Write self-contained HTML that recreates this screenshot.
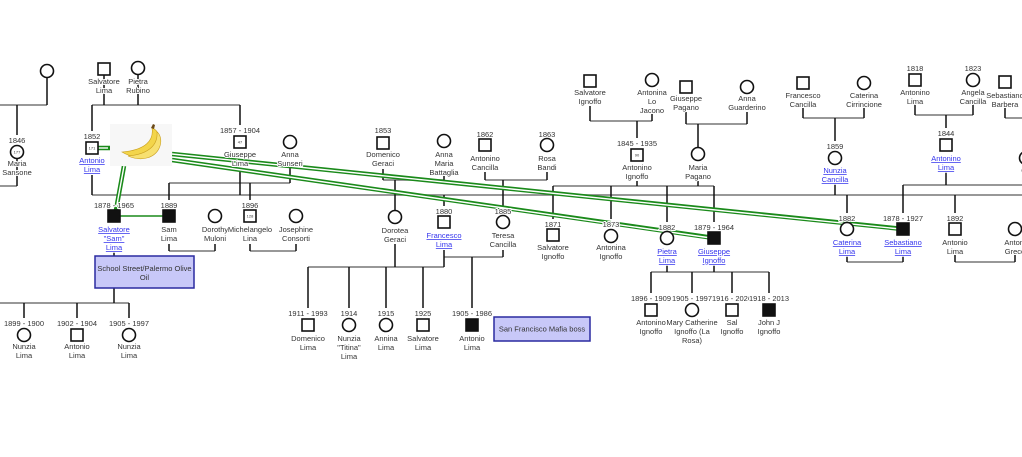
<!DOCTYPE html>
<html><head><meta charset="utf-8"><style>
html,body{margin:0;padding:0;background:#fff;width:1022px;height:457px;overflow:hidden}
svg{display:block}
text{font-family:"Liberation Sans",sans-serif;font-size:7.5px;fill:#333;text-anchor:middle;paint-order:stroke;stroke:#fff;stroke-width:2px;stroke-linejoin:round}
text.l{fill:#3333ee;text-decoration:underline}
text.n{font-size:4px;fill:#333;stroke:none}
.g{stroke:#777;stroke-width:1.5;fill:none}
.k{stroke:#111;stroke-width:1.5;fill:none}
.sq{fill:#fff;stroke:#111;stroke-width:1.6}
.ci{fill:#fff;stroke:#111;stroke-width:1.6}
.bk{fill:#111;stroke:#111;stroke-width:1.6}
</style></head><body>
<svg width="1022" height="457" viewBox="0 0 1022 457" xmlns="http://www.w3.org/2000/svg">
<g class="g">
<path d="M0 105H47M0 186H17"/>
<path d="M92 105H240"/>
<path d="M92 195H1022"/>
<path d="M169 183H290M169 251H215M250 251H296"/>
<path d="M0 303H129"/>
<path d="M383 180H444M485 180H547"/>
<path d="M308 267H444M444 257H503"/>
<path d="M590 121H652M686 124H747"/>
<path d="M553 186H714"/>
<path d="M651 272H769"/>
<path d="M803 118H864M915 115H973M1005 118H1022"/>
<path d="M903 185H1022"/>
<path d="M847 262H903M955 262H1015"/>
</g>
<g class="k">
<path d="M47 77V105M17 105V135M17 158V186"/>
<path d="M104 75V105M138 74V105M92 105V131M92 175V195M240 105V125M240 168V195M290 168V183"/>
<path d="M169 183V200M250 183V200M169 244V251M215 244V251M250 244V251M296 244V251"/>
<path d="M114 250V303M24 303V318M77 303V318M129 303V318"/>
<path d="M383 169V180M444 176V180M395 180V211M444 195V206M485 172V180M547 172V180M503 180V206"/>
<path d="M395 244V267M444 250V267M503 250V257M308 267V308M349 267V308M386 267V308M423 267V308M472 257V308"/>
<path d="M590 106V121M652 114V121M637 121V138M637 181V186M686 112V124M747 112V124M698 124V148M698 181V186"/>
<path d="M553 186V219M611 186V219M667 186V222M714 186V222M667 264V272M714 264V272"/>
<path d="M651 272V293M692 272V293M732 272V293M769 272V293"/>
<path d="M803 108V118M864 108V118M835 118V141M835 184V195M915 104V115M973 104V115M946 115V128M946 172V185M1005 108V118"/>
<path d="M847 195V213M903 185V213M955 195V213M847 255V262M903 255V262M955 255V262M1015 255V262"/>
</g>
<g fill="none" stroke="#1a8a1a" stroke-width="4.5">
<path d="M172 154L903 229"/><path d="M172 160L714 238"/><path d="M124 166L116 210"/><path d="M98 148H110"/>
</g>
<g fill="none" stroke="#fff" stroke-width="1.4">
<path d="M172 154L900 229"/><path d="M172 160L711 238"/><path d="M124 166L116.5 207"/><path d="M98 148H108"/>
</g>
<path d="M114 216H169" stroke="#1a8a1a" stroke-width="1.5"/>
<rect x="110" y="124" width="62" height="42" fill="#f7f7f7"/>
<path d="M122 152C135 160 150 158 158 146C162 138 158 130 152 128C154 140 146 150 122 152Z" fill="#f3d54a" stroke="#caa020" stroke-width=".6"/>
<path d="M128 156C142 162 156 158 160 146C162 140 160 134 157 132C158 144 150 154 128 156Z" fill="#f7e070" stroke="#caa020" stroke-width=".6"/>
<path d="M151 128l2-4 2 1-1 4z" fill="#6b4a1a"/>
<circle class="ci" cx="47" cy="71" r="6.5"/>
<text x="17" y="143">1846</text><circle class="ci" cx="17" cy="152" r="6.5"/><text class="n" x="17" y="153.5">177</text><text x="17" y="166">Maria</text><text x="17" y="175">Sansone</text>
<rect class="sq" x="98" y="63" width="12" height="12"/><text x="104" y="84">Salvatore</text><text x="104" y="93">Lima</text>
<circle class="ci" cx="138" cy="68" r="6.5"/><text x="138" y="84">Pietra</text><text x="138" y="93">Rubino</text>
<text x="92" y="139">1852</text><rect class="sq" x="86" y="142" width="12" height="12"/><text class="n" x="92" y="149.5">171</text><text class="l" x="92" y="163">Antonio</text><text class="l" x="92" y="172">Lima</text>
<text x="240" y="133">1857 - 1904</text><rect class="sq" x="234" y="136" width="12" height="12"/><text class="n" x="240" y="143.5">47</text><text x="240" y="157">Giuseppe</text><text x="240" y="166">Lima</text>
<circle class="ci" cx="290" cy="142" r="6.5"/><text x="290" y="157">Anna</text><text x="290" y="166">Sunseri</text>
<text x="114" y="208">1878 - 1965</text><rect class="bk" x="108" y="210" width="12" height="12"/><text class="l" x="114" y="232">Salvatore</text><text class="l" x="114" y="241">"Sam"</text><text class="l" x="114" y="250">Lima</text>
<text x="169" y="208">1889</text><rect class="bk" x="163" y="210" width="12" height="12"/><text x="169" y="232">Sam</text><text x="169" y="241">Lima</text>
<circle class="ci" cx="215" cy="216" r="6.5"/><text x="215" y="232">Dorothy</text><text x="215" y="241">Muloni</text>
<text x="250" y="208">1896</text><rect class="sq" x="244" y="210" width="12" height="12"/><text class="n" x="250" y="217.5">128</text><text x="250" y="232">Michelangelo</text><text x="250" y="241">Lina</text>
<circle class="ci" cx="296" cy="216" r="6.5"/><text x="296" y="232">Josephine</text><text x="296" y="241">Consorti</text>
<rect x="95" y="256" width="99" height="32" fill="#c8c8f8" stroke="#2a2aa0" stroke-width="1.5"/><text x="144.5" y="271" style="stroke:none">School Street/Palermo Olive</text><text x="144.5" y="280" style="stroke:none">Oil</text>
<text x="24" y="326">1899 - 1900</text><circle class="ci" cx="24" cy="335" r="6.5"/><text x="24" y="349">Nunzia</text><text x="24" y="358">Lima</text>
<text x="77" y="326">1902 - 1904</text><rect class="sq" x="71" y="329" width="12" height="12"/><text x="77" y="349">Antonio</text><text x="77" y="358">Lima</text>
<text x="129" y="326">1905 - 1997</text><circle class="ci" cx="129" cy="335" r="6.5"/><text x="129" y="349">Nunzia</text><text x="129" y="358">Lima</text>
<text x="383" y="133">1853</text><rect class="sq" x="377" y="137" width="12" height="12"/><text x="383" y="157">Domenico</text><text x="383" y="166">Geraci</text>
<circle class="ci" cx="444" cy="141" r="6.5"/><text x="444" y="157">Anna</text><text x="444" y="166">Maria</text><text x="444" y="175">Battaglia</text>
<text x="485" y="137">1862</text><rect class="sq" x="479" y="139" width="12" height="12"/><text x="485" y="161">Antonino</text><text x="485" y="170">Cancilla</text>
<text x="547" y="137">1863</text><circle class="ci" cx="547" cy="145" r="6.5"/><text x="547" y="161">Rosa</text><text x="547" y="170">Bandi</text>
<circle class="ci" cx="395" cy="217" r="6.5"/><text x="395" y="233">Dorotea</text><text x="395" y="242">Geraci</text>
<text x="444" y="214">1880</text><rect class="sq" x="438" y="216" width="12" height="12"/><text class="l" x="444" y="238">Francesco</text><text class="l" x="444" y="247">Lima</text>
<text x="503" y="214">1885</text><circle class="ci" cx="503" cy="222" r="6.5"/><text x="503" y="238">Teresa</text><text x="503" y="247">Cancilla</text>
<text x="308" y="316">1911 - 1993</text><rect class="sq" x="302" y="319" width="12" height="12"/><text x="308" y="341">Domenico</text><text x="308" y="350">Lima</text>
<text x="349" y="316">1914</text><circle class="ci" cx="349" cy="325" r="6.5"/><text x="349" y="341">Nunzia</text><text x="349" y="350">"Titina"</text><text x="349" y="359">Lima</text>
<text x="386" y="316">1915</text><circle class="ci" cx="386" cy="325" r="6.5"/><text x="386" y="341">Annina</text><text x="386" y="350">Lima</text>
<text x="423" y="316">1925</text><rect class="sq" x="417" y="319" width="12" height="12"/><text x="423" y="341">Salvatore</text><text x="423" y="350">Lima</text>
<text x="472" y="316">1905 - 1986</text><rect class="bk" x="466" y="319" width="12" height="12"/><text x="472" y="341">Antonio</text><text x="472" y="350">Lima</text>
<rect x="494" y="317" width="96" height="24" fill="#c8c8f8" stroke="#2a2aa0" stroke-width="1.5"/><text x="542" y="331.5" style="stroke:none">San Francisco Mafia boss</text>
<rect class="sq" x="584" y="75" width="12" height="12"/><text x="590" y="95">Salvatore</text><text x="590" y="104">Ignoffo</text>
<circle class="ci" cx="652" cy="80" r="6.5"/><text x="652" y="95">Antonina</text><text x="652" y="104">Lo</text><text x="652" y="113">Jacono</text>
<rect class="sq" x="680" y="81" width="12" height="12"/><text x="686" y="101">Giuseppe</text><text x="686" y="110">Pagano</text>
<circle class="ci" cx="747" cy="87" r="6.5"/><text x="747" y="101">Anna</text><text x="747" y="110">Guarderino</text>
<text x="637" y="146">1845 - 1935</text><rect class="sq" x="631" y="149" width="12" height="12"/><text class="n" x="637" y="156.5">90</text><text x="637" y="170">Antonino</text><text x="637" y="179">Ignoffo</text>
<circle class="ci" cx="698" cy="154" r="6.5"/><text x="698" y="170">Maria</text><text x="698" y="179">Pagano</text>
<text x="553" y="227">1871</text><rect class="sq" x="547" y="229" width="12" height="12"/><text x="553" y="250">Salvatore</text><text x="553" y="259">Ignoffo</text>
<text x="611" y="227">1873</text><circle class="ci" cx="611" cy="236" r="6.5"/><text x="611" y="250">Antonina</text><text x="611" y="259">Ignoffo</text>
<text x="667" y="230">1882</text><circle class="ci" cx="667" cy="238" r="6.5"/><text class="l" x="667" y="254">Pietra</text><text class="l" x="667" y="263">Lima</text>
<text x="714" y="230">1879 - 1964</text><rect class="bk" x="708" y="232" width="12" height="12"/><text class="l" x="714" y="254">Giuseppe</text><text class="l" x="714" y="263">Ignoffo</text>
<text x="651" y="301">1896 - 1909</text><rect class="sq" x="645" y="304" width="12" height="12"/><text x="651" y="325">Antonino</text><text x="651" y="334">Ignoffo</text>
<text x="692" y="301">1905 - 1997</text><circle class="ci" cx="692" cy="310" r="6.5"/><text x="692" y="325">Mary Catherine</text><text x="692" y="334">Ignoffo (La</text><text x="692" y="343">Rosa)</text>
<text x="732" y="301">1916 - 2020</text><rect class="sq" x="726" y="304" width="12" height="12"/><text x="732" y="325">Sal</text><text x="732" y="334">Ignoffo</text>
<text x="769" y="301">1918 - 2013</text><rect class="bk" x="763" y="304" width="12" height="12"/><text x="769" y="325">John J</text><text x="769" y="334">Ignoffo</text>
<rect class="sq" x="797" y="77" width="12" height="12"/><text x="803" y="98">Francesco</text><text x="803" y="107">Cancilla</text>
<circle class="ci" cx="864" cy="83" r="6.5"/><text x="864" y="98">Caterina</text><text x="864" y="107">Cirrincione</text>
<text x="835" y="149">1859</text><circle class="ci" cx="835" cy="158" r="6.5"/><text class="l" x="835" y="173">Nunzia</text><text class="l" x="835" y="182">Cancilla</text>
<text x="915" y="71">1818</text><rect class="sq" x="909" y="74" width="12" height="12"/><text x="915" y="95">Antonino</text><text x="915" y="104">Lima</text>
<text x="973" y="71">1823</text><circle class="ci" cx="973" cy="80" r="6.5"/><text x="973" y="95">Angela</text><text x="973" y="104">Cancilla</text>
<rect class="sq" x="999" y="76" width="12" height="12"/><text x="1005" y="98">Sebastiano</text><text x="1005" y="107">Barbera</text>
<text x="946" y="136">1844</text><rect class="sq" x="940" y="139" width="12" height="12"/><text class="l" x="946" y="161">Antonino</text><text class="l" x="946" y="170">Lima</text>
<text x="1026" y="149">1</text><circle class="ci" cx="1026" cy="158" r="6.5"/><text x="1026" y="173">Ca</text><text x="1026" y="182">Ba</text>
<text x="847" y="221">1882</text><circle class="ci" cx="847" cy="229" r="6.5"/><text class="l" x="847" y="245">Caterina</text><text class="l" x="847" y="254">Lima</text>
<text x="903" y="221">1878 - 1927</text><rect class="bk" x="897" y="223" width="12" height="12"/><text class="l" x="903" y="245">Sebastiano</text><text class="l" x="903" y="254">Lima</text>
<text x="955" y="221">1892</text><rect class="sq" x="949" y="223" width="12" height="12"/><text x="955" y="245">Antonio</text><text x="955" y="254">Lima</text>
<circle class="ci" cx="1015" cy="229" r="6.5"/><text x="1015" y="245">Antoni</text><text x="1015" y="254">Greco</text>
</svg>
</body></html>
